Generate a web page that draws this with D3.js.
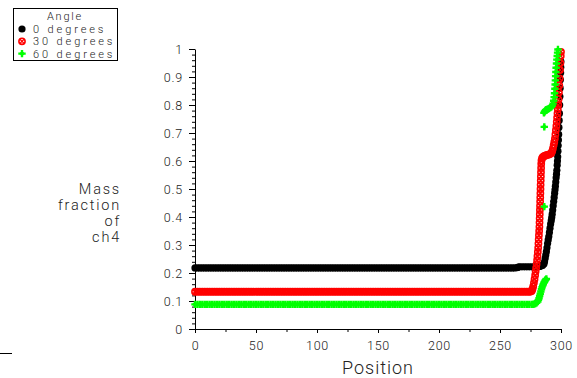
<!DOCTYPE html>
<html>
<head>
<meta charset="utf-8">
<script src="https://cdn.jsdelivr.net/npm/d3@7"></script>
<style>
  html, body { margin: 0; padding: 0; background: #fff; }
  svg { display: block; font-family: "Roboto", "DejaVu Sans", sans-serif; font-weight: 300; }
  text { fill: #222; }
</style>
</head>
<body>
<svg id="chart" width="577" height="378"></svg>
<script>
// ---- data -------------------------------------------------------------
const angleLabels = ["0 degrees", "30 degrees", "60 degrees"];
const xTicks = [0, 50, 100, 150, 200, 250, 300];
const yTicks = [0, 0.1, 0.2, 0.3, 0.4, 0.5, 0.6, 0.7, 0.8, 0.9, 1];

// coarse cells along the uniform part of the domain (0 .. 258, every 2)
const flatPositions = d3.range(0, 260, 2);

const blackFlat = [
  0.218,0.218,0.218,0.218,0.218,0.218,0.218,0.218,0.218,0.218,
  0.218,0.218,0.218,0.218,0.218,0.218,0.218,0.218,0.218,0.218,
  0.218,0.218,0.218,0.218,0.218,0.218,0.218,0.218,0.218,0.218,
  0.218,0.218,0.218,0.218,0.218,0.218,0.218,0.218,0.218,0.218,
  0.218,0.218,0.218,0.218,0.218,0.218,0.218,0.218,0.218,0.218,
  0.218,0.218,0.218,0.218,0.218,0.218,0.218,0.218,0.218,0.218,
  0.218,0.218,0.218,0.218,0.218,0.218,0.218,0.218,0.218,0.218,
  0.218,0.218,0.218,0.218,0.218,0.218,0.218,0.218,0.218,0.218,
  0.218,0.218,0.218,0.218,0.218,0.218,0.218,0.218,0.218,0.218,
  0.218,0.218,0.218,0.218,0.218,0.218,0.218,0.218,0.218,0.218,
  0.218,0.218,0.218,0.218,0.218,0.218,0.218,0.218,0.218,0.218,
  0.218,0.218,0.218,0.218,0.218,0.218,0.218,0.218,0.218,0.218,
  0.218,0.218,0.218,0.218,0.218,0.218,0.218,0.218,0.218,0.218
];
const redFlat = [
  0.133,0.133,0.133,0.133,0.133,0.133,0.133,0.133,0.133,0.133,
  0.133,0.133,0.133,0.133,0.133,0.133,0.133,0.133,0.133,0.133,
  0.133,0.133,0.133,0.133,0.133,0.133,0.133,0.133,0.133,0.133,
  0.133,0.133,0.133,0.133,0.133,0.133,0.133,0.133,0.133,0.133,
  0.133,0.133,0.133,0.133,0.133,0.133,0.133,0.133,0.133,0.133,
  0.133,0.133,0.133,0.133,0.133,0.133,0.133,0.133,0.133,0.133,
  0.133,0.133,0.133,0.133,0.133,0.133,0.133,0.133,0.133,0.133,
  0.133,0.133,0.133,0.133,0.133,0.133,0.133,0.133,0.133,0.133,
  0.133,0.133,0.133,0.133,0.133,0.133,0.133,0.133,0.133,0.133,
  0.133,0.133,0.133,0.133,0.133,0.133,0.133,0.133,0.133,0.133,
  0.133,0.133,0.133,0.133,0.133,0.133,0.133,0.133,0.133,0.133,
  0.133,0.133,0.133,0.133,0.133,0.133,0.133,0.133,0.133,0.133,
  0.133,0.133,0.133,0.133,0.133,0.133,0.133,0.133,0.133,0.133
];
const greenFlat = [
  0.088,0.088,0.088,0.088,0.088,0.088,0.088,0.088,0.088,0.088,
  0.088,0.088,0.088,0.088,0.088,0.088,0.088,0.088,0.088,0.088,
  0.088,0.088,0.088,0.088,0.088,0.088,0.088,0.088,0.088,0.088,
  0.088,0.088,0.088,0.088,0.088,0.088,0.088,0.088,0.088,0.088,
  0.088,0.088,0.088,0.088,0.088,0.088,0.088,0.088,0.088,0.088,
  0.088,0.088,0.088,0.088,0.088,0.088,0.088,0.088,0.088,0.088,
  0.088,0.088,0.088,0.088,0.088,0.088,0.088,0.088,0.088,0.088,
  0.088,0.088,0.088,0.088,0.088,0.088,0.088,0.088,0.088,0.088,
  0.088,0.088,0.088,0.088,0.088,0.088,0.088,0.088,0.088,0.088,
  0.088,0.088,0.088,0.088,0.088,0.088,0.088,0.088,0.088,0.088,
  0.088,0.088,0.088,0.088,0.088,0.088,0.088,0.088,0.088,0.088,
  0.088,0.088,0.088,0.088,0.088,0.088,0.088,0.088,0.088,0.088,
  0.088,0.088,0.088,0.088,0.088,0.088,0.088,0.088,0.088,0.088
];

// refined cells near the outlet: [position, mass fraction]
const blackTail = [
  [260,.218],[262,.218],[264,.219],[265,.221],[266,.222],[268,.222],[270,.222],[272,.222],
  [274,.222],[276,.222],[278,.222],[280,.222],[282,.223],[283,.224],[284,.226],[285,.228],
  [286,.232],[286.5,.24],[287,.252],[287.5,.264],[288,.276],[288.5,.29],[289,.305],[289.5,.318],
  [290,.33],[290.5,.345],[291,.36],[291.5,.375],[292,.387],[292.4,.398],[292.8,.41],[293.2,.425],
  [293.6,.44],[294,.455],[294.4,.47],[294.8,.485],[295.1,.497],[295.4,.51],[295.7,.525],[296,.54],
  [296.3,.553],[296.6,.567],[296.9,.585],[297.1,.60],[297.3,.615],[297.5,.635],[297.7,.655],
  [297.9,.675],[298.1,.695],[298.3,.72],[298.5,.745],[298.7,.77],[298.9,.80],[299.1,.83],
  [299.3,.86],[299.5,.89],[299.7,.915],[299.8,.935],[299.9,.955]
];
const redTail = [
  [260,.133],[262,.133],[264,.133],[266,.133],[268,.133],[270,.133],[272,.133],[274,.133],
  [275,.134],[276,.136],[276.6,.142],[277.2,.152],[277.8,.165],[278.3,.178],[278.8,.192],
  [279.2,.205],[279.6,.218],[280,.232],[280.4,.246],[280.7,.26],[281,.275],[281.3,.29],
  [281.5,.305],[281.7,.32],[281.9,.335],[282.1,.35],[282.3,.365],[282.4,.38],[282.5,.395],
  [282.6,.41],[282.7,.425],[282.8,.44],[282.9,.455],[283,.47],[283.1,.485],[283.2,.50],
  [283.3,.515],[283.4,.53],[283.5,.545],[283.6,.56],[283.7,.575],[283.8,.59],[284,.602],
  [284.5,.61],[285,.614],[286,.617],[287,.619],[288,.621],[289,.622],[290,.623],[291,.625],
  [292,.628],[292.8,.635],[293.4,.645],[294,.657],[294.5,.668],[295,.68],[295.4,.695],
  [295.8,.71],[296.2,.725],[296.5,.74],[296.8,.755],[297.1,.77],[297.4,.785],[297.7,.80],
  [298,.82],[298.3,.845],[298.6,.87],[298.9,.895],[299.2,.925],[299.5,.95],[299.8,.975],[300,.99]
];
const greenTail = [
  [260,.088],[262,.088],[264,.088],[266,.088],[268,.088],[270,.088],[272,.088],[274,.088],
  [276,.088],[277,.088],[278,.089],[279,.091],[280,.094],[281,.098],[281.5,.104],[282,.11],
  [282.5,.118],[283,.126],[283.5,.134],[284,.142],[284.5,.149],[285,.155],[285.5,.16],
  [286,.165],[286.5,.169],[287,.173],[287.5,.176],[288,.179],
  [286.3,.437],[286.3,.722],
  [286,.772],[286.5,.776],[287,.779],[287.5,.781],[288,.783],[289,.785],[290,.787],[291,.79],
  [292,.793],[292.8,.797],[293.5,.805],[294,.815],[294.4,.828],[294.7,.842],[295,.858],
  [295.2,.873],[295.4,.888],[295.6,.903],[295.8,.918],[296,.933],[296.3,.948],[296.6,.962],
  [296.9,.975],[297.2,.987],[297.5,.998]
];

// ---- layout -----------------------------------------------------------
const svg = d3.select("#chart");
const x = d3.scaleLinear().domain([0, 300]).range([195, 561]);
const y = d3.scaleLinear().domain([0, 1]).range([329, 49]);

// marker glyphs, one per series
const markers = {
  dot:     g => g.append("circle").attr("r", 3.6).attr("fill", "#000"),
  circleX: g => {
    g.append("circle").attr("r", 3.1).attr("fill", "none").attr("stroke", "#ff0000").attr("stroke-width", 1.6);
    g.append("path").attr("d", "M-2.3,-2.3L2.3,2.3M-2.3,2.3L2.3,-2.3")
      .attr("stroke", "#ff0000").attr("stroke-width", 1.3);
  },
  plus:    g => {
    g.append("path").attr("d", "M-3.7,0H3.7M0,-3.7V3.7")
      .attr("stroke", "#00ff00").attr("stroke-width", 2.4);
    g.append("path").attr("d", "M0,-2.8L2.8,0L0,2.8L-2.8,0Z").attr("fill", "#00ff00");
  }
};

const series = [
  { label: angleLabels[0], flat: blackFlat, tail: blackTail, marker: "dot" },
  { label: angleLabels[1], flat: redFlat,   tail: redTail,   marker: "circleX" },
  { label: angleLabels[2], flat: greenFlat, tail: greenTail, marker: "plus" }
];
series.forEach(s => {
  s.points = flatPositions.map((p, i) => [p, s.flat[i]]).concat(s.tail);
});

// ---- axes -------------------------------------------------------------
const styleTicks = g => g.selectAll("text")
  .attr("font-size", 12.5).attr("font-family", "Roboto").attr("font-weight", 300)
  .attr("fill", "#222").attr("letter-spacing", 0.8);

const yMinor = d3.range(0, 51).map(i => i / 50);
svg.append("g").attr("transform", "translate(195,0)")
  .call(d3.axisLeft(y).tickValues(yMinor).tickSize(3).tickSizeOuter(0).tickFormat(""))
  .call(g => g.select(".domain").remove());
svg.append("g").attr("transform", "translate(195,0)")
  .call(d3.axisLeft(y).tickValues(yTicks).tickSize(6).tickSizeOuter(0).tickPadding(6)
    .tickFormat(d => String(+d.toFixed(1))))
  .call(styleTicks);

const xMinor = d3.range(0, 301, 25);
svg.append("g").attr("transform", "translate(0,329)")
  .call(d3.axisBottom(x).tickValues(xMinor).tickSize(3).tickSizeOuter(0).tickFormat(""))
  .call(g => g.select(".domain").remove());
svg.append("g").attr("transform", "translate(0,329)")
  .call(d3.axisBottom(x).tickValues(xTicks).tickSize(4).tickSizeOuter(0).tickPadding(8))
  .call(styleTicks);

// ---- series -----------------------------------------------------------
series.forEach(s => {
  svg.append("g").selectAll("g").data(s.points).join("g")
    .attr("transform", d => `translate(${x(d[0])},${y(d[1])})`)
    .each(function () { markers[s.marker](d3.select(this)); });
});

// ---- titles -----------------------------------------------------------
svg.append("text").attr("x", 378).attr("y", 374).attr("text-anchor", "middle")
  .attr("font-size", 18).attr("letter-spacing", 1).text("Position");

["Mass", "fraction", "of", "ch4"].forEach((t, i) => {
  svg.append("text").attr("x", 121).attr("y", 194 + i * 16)
    .attr("text-anchor", "end").attr("font-size", 14.5).attr("letter-spacing", 1.8)
    .text(t);
});

// ---- legend -----------------------------------------------------------
const legend = svg.append("g");
svg.append("clipPath").attr("id", "legend-clip")
  .append("rect").attr("x", 13).attr("y", 8).attr("width", 104).attr("height", 52);
legend.append("rect").attr("x", 13.5).attr("y", 8.5).attr("width", 104).attr("height", 52)
  .attr("fill", "#fff").attr("stroke", "#000");
const lg = legend.append("g").attr("clip-path", "url(#legend-clip)");
lg.append("text").attr("x", 65).attr("y", 19.5).attr("text-anchor", "middle")
  .attr("font-size", 11).attr("letter-spacing", 1.8).text("Angle");
series.forEach((s, i) => {
  const cy = 29 + i * 12.3;
  markers[s.marker](lg.append("g").attr("transform", `translate(22,${cy})`));
  lg.append("text").attr("x", 33).attr("y", cy + 4).attr("font-size", 11)
    .attr("letter-spacing", 2.9).text(s.label);
});

// short rule at the lower left edge
svg.append("line").attr("x1", 0).attr("x2", 12).attr("y1", 353.5).attr("y2", 353.5)
  .attr("stroke", "#000");
</script>
</body>
</html>
